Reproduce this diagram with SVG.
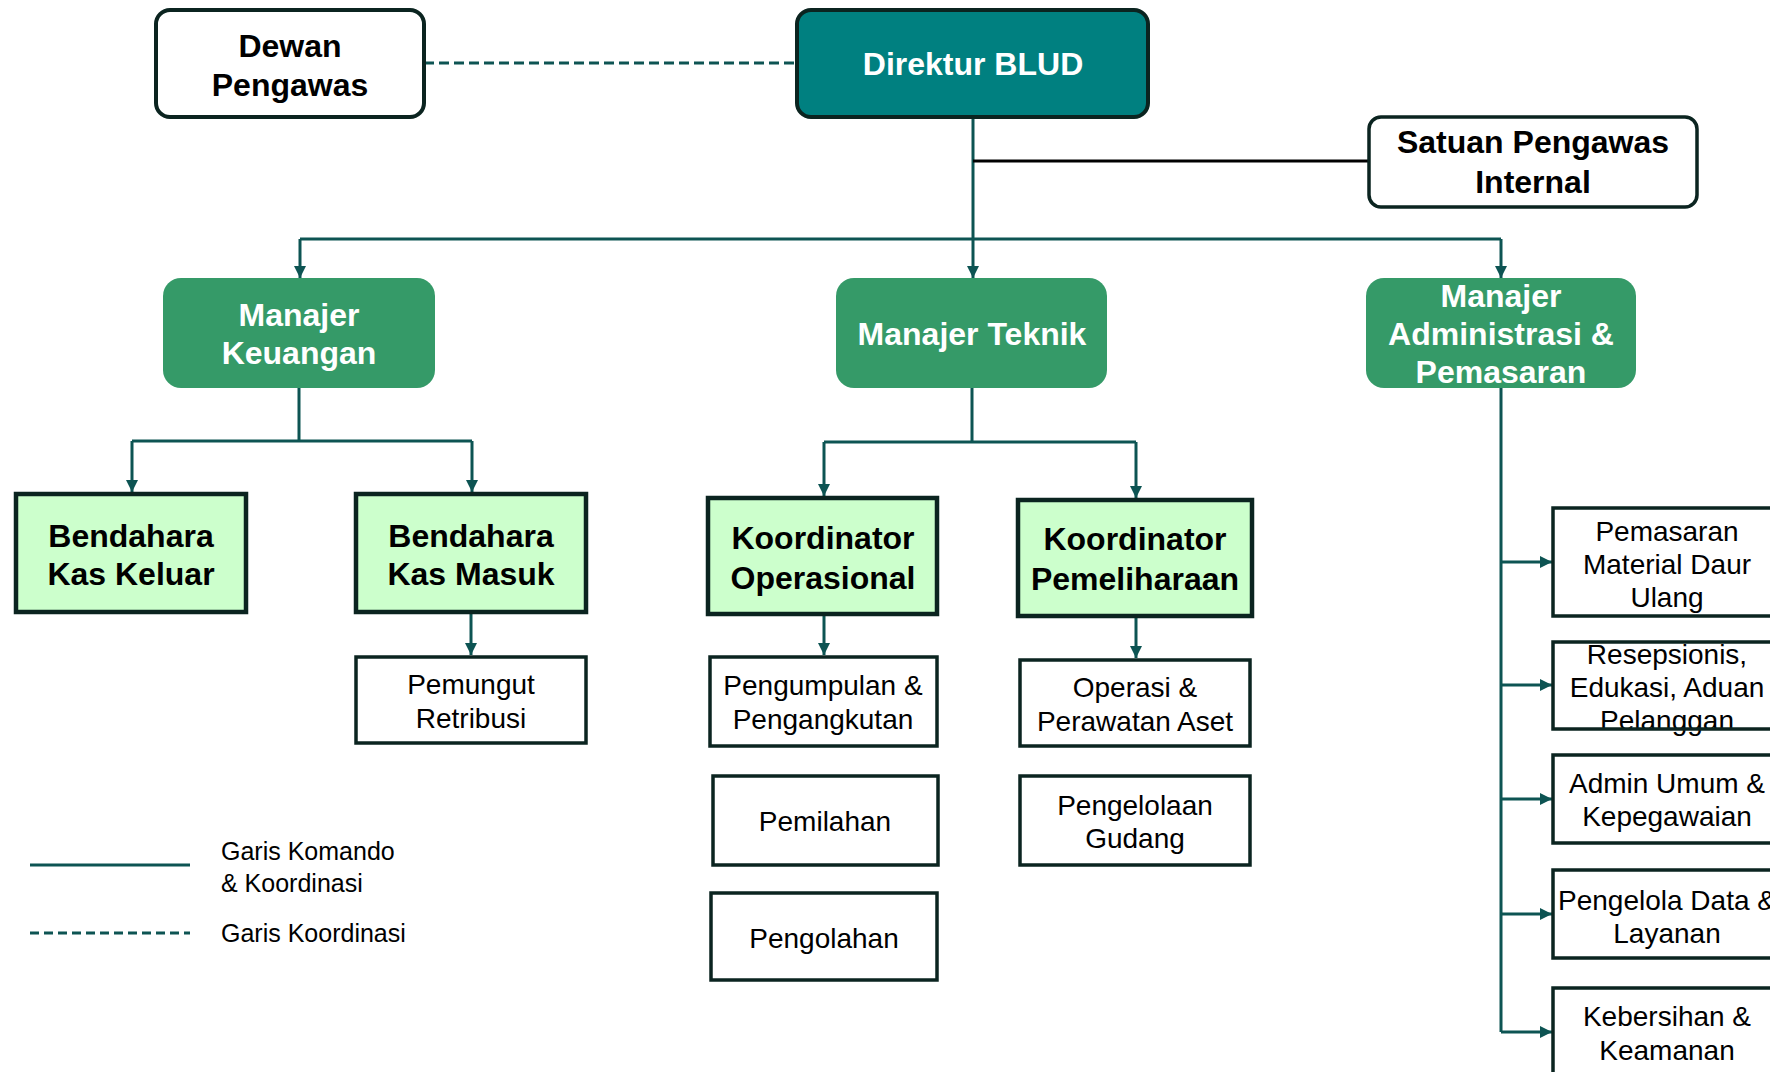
<svg xmlns="http://www.w3.org/2000/svg" width="1770" height="1072" viewBox="0 0 1770 1072">
<style>
.b{font-family:"Liberation Sans",Arial,sans-serif;font-weight:bold;font-size:32px;text-anchor:middle;fill:#000}
.w{fill:#fff}
.r{font-family:"Liberation Sans",Arial,sans-serif;font-size:28px;text-anchor:middle;fill:#000}
.lg{font-family:"Liberation Sans",Arial,sans-serif;font-size:25px;fill:#000}
.bx{fill:#fff;stroke:#0b2420;stroke-width:3.5}
.lt{fill:#ccffcc;stroke:#0b2420;stroke-width:4.5}
.mg{fill:#359a68}
.c{fill:none;stroke:#0d5453;stroke-width:3}
</style>
<defs>
<marker id="ah" markerUnits="userSpaceOnUse" markerWidth="14" markerHeight="14" refX="12" refY="6" orient="auto">
<path d="M0,0 L12,6 L0,12 z" fill="#0d5453"/>
</marker>
</defs>
<rect width="1770" height="1072" fill="#fff"/>
<g id="connectors">
<path class="c" d="M424 63 H797" stroke-dasharray="10 5"/>
<path class="c" d="M973 117 V239"/>
<path d="M973 161 H1369" fill="none" stroke="#000" stroke-width="3"/>
<path class="c" d="M300 239 H1501"/>
<path class="c" d="M300 239 V278" marker-end="url(#ah)"/>
<path class="c" d="M973 239 V278" marker-end="url(#ah)"/>
<path class="c" d="M1501 239 V278" marker-end="url(#ah)"/>
<path class="c" d="M299 388 V441 M132 441 H472"/>
<path class="c" d="M132 441 V492" marker-end="url(#ah)"/>
<path class="c" d="M472 441 V492" marker-end="url(#ah)"/>
<path class="c" d="M471 612 V655" marker-end="url(#ah)"/>
<path class="c" d="M972 388 V442 M824 442 H1136"/>
<path class="c" d="M824 442 V496" marker-end="url(#ah)"/>
<path class="c" d="M1136 442 V498" marker-end="url(#ah)"/>
<path class="c" d="M824 614 V655" marker-end="url(#ah)"/>
<path class="c" d="M1136 616 V658" marker-end="url(#ah)"/>
<path class="c" d="M1501 388 V1032"/>
<path class="c" d="M1501 562 H1552" marker-end="url(#ah)"/>
<path class="c" d="M1501 685 H1552" marker-end="url(#ah)"/>
<path class="c" d="M1501 799 H1552" marker-end="url(#ah)"/>
<path class="c" d="M1501 914 H1552" marker-end="url(#ah)"/>
<path class="c" d="M1501 1032 H1552" marker-end="url(#ah)"/>
</g>
<g id="dewan-pengawas">
<rect x="156" y="10" width="268" height="107" rx="14" fill="#fff" stroke="#0b2420" stroke-width="4"/>
<text class="b" x="290" y="57">Dewan</text>
<text class="b" x="290" y="96">Pengawas</text>
</g>
<g id="direktur-blud">
<rect x="797" y="10" width="351" height="107" rx="14" fill="#008080" stroke="#0b2420" stroke-width="4"/>
<text class="b w" x="973" y="75">Direktur BLUD</text>
</g>
<g id="satuan-pengawas-internal">
<rect x="1369" y="117" width="328" height="90" rx="12" fill="#fff" stroke="#0b2420" stroke-width="3.5"/>
<text class="b" x="1533" y="153">Satuan Pengawas</text>
<text class="b" x="1533" y="193">Internal</text>
</g>
<g id="manajer-keuangan">
<rect class="mg" x="163" y="278" width="272" height="110" rx="18"/>
<text class="b w" x="299" y="326">Manajer</text>
<text class="b w" x="299" y="364">Keuangan</text>
</g>
<g id="manajer-teknik">
<rect class="mg" x="836" y="278" width="271" height="110" rx="18"/>
<text class="b w" x="972" y="345">Manajer Teknik</text>
</g>
<g id="manajer-administrasi">
<rect class="mg" x="1366" y="278" width="270" height="110" rx="18"/>
<text class="b w" x="1501" y="307">Manajer</text>
<text class="b w" x="1501" y="345">Administrasi &amp;</text>
<text class="b w" x="1501" y="383">Pemasaran</text>
</g>
<g id="bendahara-kas-keluar">
<rect class="lt" x="16" y="494" width="230" height="118"/>
<text class="b" x="131" y="547">Bendahara</text>
<text class="b" x="131" y="585">Kas Keluar</text>
</g>
<g id="bendahara-kas-masuk">
<rect class="lt" x="356" y="494" width="230" height="118"/>
<text class="b" x="471" y="547">Bendahara</text>
<text class="b" x="471" y="585">Kas Masuk</text>
</g>
<g id="pemungut-retribusi">
<rect class="bx" x="356" y="657" width="230" height="86"/>
<text class="r" x="471" y="694">Pemungut</text>
<text class="r" x="471" y="728">Retribusi</text>
</g>
<g id="koordinator-operasional">
<rect class="lt" x="708" y="498" width="229" height="116"/>
<text class="b" x="823" y="549">Koordinator</text>
<text class="b" x="823" y="589">Operasional</text>
</g>
<g id="koordinator-pemeliharaan">
<rect class="lt" x="1018" y="500" width="234" height="116"/>
<text class="b" x="1135" y="550">Koordinator</text>
<text class="b" x="1135" y="590">Pemeliharaan</text>
</g>
<g id="pengumpulan">
<rect class="bx" x="710" y="657" width="227" height="89"/>
<text class="r" x="823" y="695">Pengumpulan &amp;</text>
<text class="r" x="823" y="729">Pengangkutan</text>
</g>
<g id="pemilahan">
<rect class="bx" x="713" y="776" width="225" height="89"/>
<text class="r" x="825" y="831">Pemilahan</text>
</g>
<g id="pengolahan">
<rect class="bx" x="711" y="893" width="226" height="87"/>
<text class="r" x="824" y="948">Pengolahan</text>
</g>
<g id="operasi-perawatan">
<rect class="bx" x="1020" y="660" width="230" height="86"/>
<text class="r" x="1135" y="697">Operasi &amp;</text>
<text class="r" x="1135" y="731">Perawatan Aset</text>
</g>
<g id="pengelolaan-gudang">
<rect class="bx" x="1020" y="776" width="230" height="89"/>
<text class="r" x="1135" y="815">Pengelolaan</text>
<text class="r" x="1135" y="848">Gudang</text>
</g>
<g id="pemasaran-material">
<rect class="bx" x="1553" y="508" width="228" height="108"/>
<text class="r" x="1667" y="541">Pemasaran</text>
<text class="r" x="1667" y="574">Material Daur</text>
<text class="r" x="1667" y="607">Ulang</text>
</g>
<g id="resepsionis">
<rect x="1553" y="642" width="228" height="87" fill="#fff"/>
<text class="r" x="1667" y="664">Resepsionis,</text>
<text class="r" x="1667" y="697">Edukasi, Aduan</text>
<text class="r" x="1667" y="730">Pelanggan</text>
<rect x="1553" y="642" width="228" height="87" fill="none" stroke="#0b2420" stroke-width="3.5"/>
</g>
<g id="admin-umum">
<rect class="bx" x="1553" y="755" width="228" height="88"/>
<text class="r" x="1667" y="793">Admin Umum &amp;</text>
<text class="r" x="1667" y="826">Kepegawaian</text>
</g>
<g id="pengelola-data">
<rect class="bx" x="1553" y="870" width="228" height="88"/>
<text class="r" x="1667" y="910">Pengelola Data &amp;</text>
<text class="r" x="1667" y="943">Layanan</text>
</g>
<g id="kebersihan">
<rect class="bx" x="1553" y="988" width="228" height="90"/>
<text class="r" x="1667" y="1026">Kebersihan &amp;</text>
<text class="r" x="1667" y="1060">Keamanan</text>
</g>
<g id="legend">
<path class="c" d="M30 865 H190"/>
<path class="c" d="M30 933 H190" stroke-dasharray="9 5"/>
<text class="lg" x="221" y="860">Garis Komando</text>
<text class="lg" x="221" y="892">&amp; Koordinasi</text>
<text class="lg" x="221" y="942">Garis Koordinasi</text>
</g>
</svg>
